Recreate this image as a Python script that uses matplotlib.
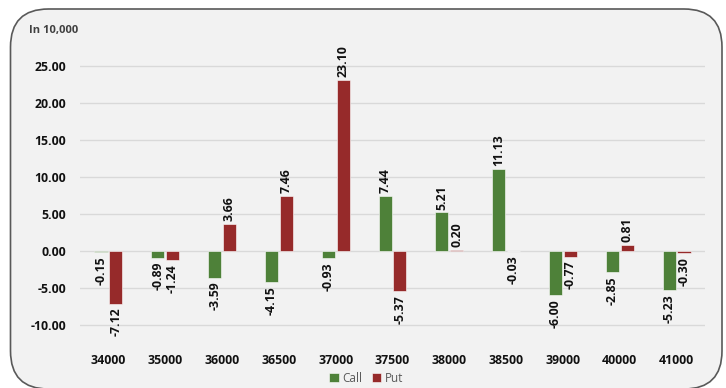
#!/usr/bin/env python3

import matplotlib
matplotlib.use("Agg")
import numpy as np
import matplotlib.pyplot as plt
from matplotlib.patches import FancyBboxPatch

strikes = ["34000", "35000", "36000", "36500", "37000", "37500",
           "38000", "38500", "39000", "40000", "41000"]
call = [-0.15, -0.89, -3.59, -4.15, -0.93, 7.44, 5.21, 11.13, -6.00, -2.85, -5.23]
put = [-7.12, -1.24, 3.66, 7.46, 23.10, -5.37, 0.20, -0.03, -0.77, 0.81, -0.30]
yticks = [-10, -5, 0, 5, 10, 15, 20, 25]

GREEN = "#4e8139"
RED = "#962a2a"

plt.rcParams["font.family"] = ["Open Sans", "DejaVu Sans"]

fig = plt.figure(figsize=(7.26, 3.88), dpi=100)

# rounded frame behind the chart (pixel coordinates)
frame = FancyBboxPatch((10.5, -1), 711.5, 388 - 9 + 1,
                       boxstyle="round,pad=0,rounding_size=38",
                       transform=None, facecolor="#f2f2f2", edgecolor="#595959",
                       linewidth=1.2, zorder=-5)
fig.patches.append(frame)

ax = fig.add_axes([80 / 726, 1 - 340 / 388, 625 / 726, 295 / 388])
ax.set_facecolor("none")
ax.set_zorder(2)

x = np.arange(len(strikes))
w = 0.23
off = 0.13
b1 = ax.bar(x - off, call, w, color=GREEN, edgecolor="white", linewidth=0.4,
            label="Call", zorder=3)
b2 = ax.bar(x + off, put, w, color=RED, edgecolor="white", linewidth=0.4,
            label="Put", zorder=3)

for bars, vals in ((b1, call), (b2, put)):
    for bar, v in zip(bars, vals):
        cx = bar.get_x() + bar.get_width() / 2
        if v >= 0:
            ax.annotate("%.2f" % v, (cx, v), xytext=(0, 2), textcoords="offset points",
                        rotation=90, ha="center", va="bottom", fontsize=8.8,
                        fontweight="bold", color="#111111")
        else:
            ax.annotate("%.2f" % v, (cx, v), xytext=(0, -3), textcoords="offset points",
                        rotation=90, ha="center", va="top", fontsize=8.8,
                        fontweight="bold", color="#111111")

ax.set_xlim(-0.5, len(strikes) - 0.5)
ax.set_ylim(-12.03, 27.84)
ax.set_yticks(yticks)
ax.set_yticklabels(["%.2f" % t for t in yticks])
ax.set_xticks(x)
ax.set_xticklabels(strikes)
ax.tick_params(axis="both", length=0, labelsize=8.8, colors="#111111")
ax.tick_params(axis="y", pad=10)
ax.tick_params(axis="x", pad=10)
for lab in ax.get_xticklabels() + ax.get_yticklabels():
    lab.set_fontweight("bold")

ax.grid(axis="y", color="#d9d9d9", linewidth=1.0, zorder=0)
for s in ax.spines.values():
    s.set_visible(False)

fig.text(29 / 726, 1 - 31 / 388, "In 10,000", fontsize=8, fontweight="bold",
         color="#404040", va="center", ha="left")

fig.legend(handles=[b1, b2], loc="center", bbox_to_anchor=(366 / 726, 1 - 378 / 388),
           ncol=2, frameon=False, fontsize=8.5, labelcolor="#595959",
           handlelength=0.8, handleheight=0.8, handletextpad=0.3, columnspacing=0.8)

fig.savefig("out.png", dpi=100)
